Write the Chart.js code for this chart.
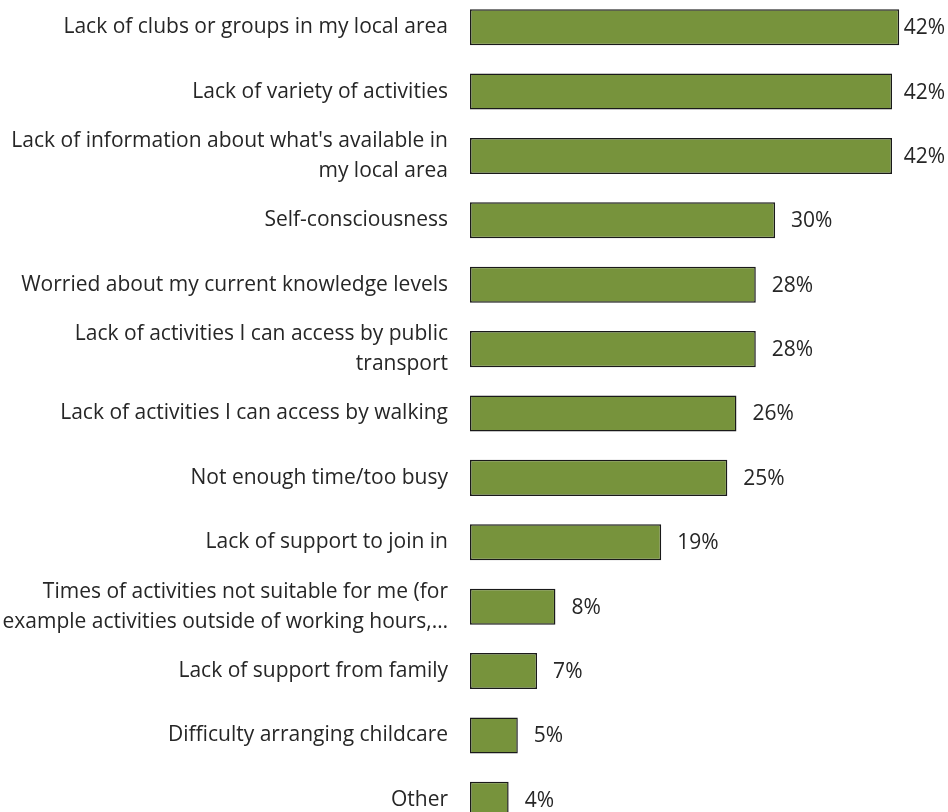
<!DOCTYPE html>
<html>
<head>
<meta charset="utf-8">
<script src="https://cdn.jsdelivr.net/npm/chart.js@4.4.1/dist/chart.umd.min.js"></script>
<style>
  html, body { margin: 0; padding: 0; background: #fff; overflow: hidden; }
  #wrap { position: absolute; left: 0; top: -5px; width: 948px; height: 837px; }
</style>
</head>
<body>
<div id="wrap"><canvas id="barriersChart"></canvas></div>
<script>
// barriers to taking part, % of respondents
const categories = [
    'Lack of clubs or groups in my local area',
    'Lack of variety of activities',
    ["Lack of information about what's available in", 'my local area'],
    'Self-consciousness',
    'Worried about my current knowledge levels',
    ['Lack of activities I can access by public', 'transport'],
    'Lack of activities I can access by walking',
    'Not enough time/too busy',
    'Lack of support to join in',
    ['Times of activities not suitable for me (for', 'example activities outside of working hours,…'],
    'Lack of support from family',
    'Difficulty arranging childcare',
    'Other'
];
const percentValues = [42.2, 41.5, 41.5, 30.0, 28.1, 28.1, 26.2, 25.3, 18.8, 8.4, 6.6, 4.7, 3.8];

const FONT_FAMILY = 'Open Sans';
const FONT_SIZE = 21;
const TEXT_COLOR = '#262626';

// value labels to the right of each bar (kept inside the canvas)
const valueLabels = {
    id: 'valueLabels',
    afterDatasetsDraw(chart) {
        const ctx = chart.ctx;
        const meta = chart.getDatasetMeta(0);
        ctx.save();
        ctx.font = FONT_SIZE + 'px "' + FONT_FAMILY + '"';
        ctx.fillStyle = TEXT_COLOR;
        ctx.textAlign = 'left';
        ctx.textBaseline = 'middle';
        meta.data.forEach((bar, i) => {
            const txt = Math.round(percentValues[i]) + '%';
            const w = ctx.measureText(txt).width;
            const x = Math.min(bar.x + 16, chart.width - w - 3);
            ctx.fillText(txt, x, bar.y + 1);
        });
        ctx.restore();
    }
};

new Chart(document.getElementById('barriersChart'), {
    type: 'bar',
    data: {
        labels: categories,
        datasets: [{
            data: percentValues,
            backgroundColor: '#77933C',
            borderColor: '#1a1a1a',
            borderWidth: 1.5,
            borderSkipped: false,
            barPercentage: 0.56,
            categoryPercentage: 1,
            clip: false
        }]
    },
    options: {
        indexAxis: 'y',
        responsive: true,
        maintainAspectRatio: false,
        animation: false,
        layout: { padding: 0 },
        plugins: { legend: { display: false }, tooltip: { enabled: false } },
        scales: {
            x: { display: false, min: 0, max: 47 },
            y: {
                afterFit: (s) => {
                    s.width = 470;
                    // no extra room above/below for the first/last label
                    s.paddingTop = 0;
                    s.paddingBottom = 0;
                },
                grid: { display: false, drawTicks: false },
                border: { display: false },
                ticks: {
                    padding: 22,
                    color: TEXT_COLOR,
                    font: { family: FONT_FAMILY, size: FONT_SIZE, lineHeight: 1.43 }
                }
            }
        }
    },
    plugins: [valueLabels]
});
</script>
</body>
</html>
